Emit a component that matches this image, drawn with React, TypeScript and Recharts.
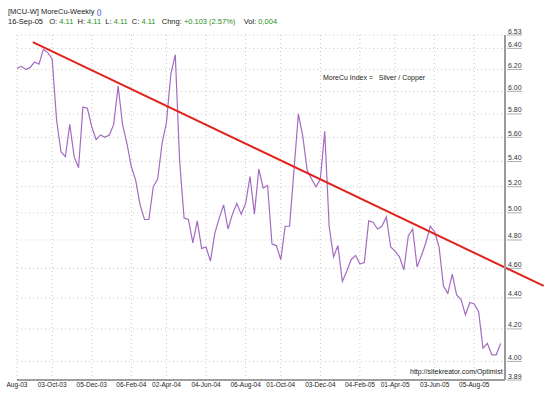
import { LineChart, Line, XAxis, YAxis, CartesianGrid, ReferenceLine } from "recharts"

// weekly closes, 8-Aug-03 .. 16-Sep-05
const closes = [
  6.21, 6.23, 6.2, 6.22, 6.27, 6.25, 6.39, 6.36, 6.3, 5.75,
  5.48, 5.44, 5.71, 5.44, 5.35, 5.86, 5.85, 5.69, 5.58, 5.62,
  5.6, 5.62, 5.71, 6.05, 5.71, 5.55, 5.36, 5.25, 5.06, 4.95,
  4.95, 5.2, 5.26, 5.55, 5.73, 6.16, 6.34, 5.4, 4.96, 4.95,
  4.78, 4.94, 4.74, 4.75, 4.65, 4.85, 4.96, 5.06, 4.88, 4.99,
  5.07, 4.99, 5.07, 5.28, 4.99, 5.34, 5.19, 5.21, 4.77, 4.76,
  4.66, 4.9, 4.9, 5.33, 5.8, 5.61, 5.33, 5.26, 5.2, 5.26,
  5.65, 4.9, 4.68, 4.76, 4.51, 4.58, 4.66, 4.69, 4.63, 4.64,
  4.94, 4.93, 4.88, 4.9, 4.97, 4.75, 4.72, 4.68, 4.59, 4.83,
  4.88, 4.61, 4.69, 4.78, 4.9, 4.86, 4.75, 4.48, 4.43, 4.56,
  4.42, 4.39, 4.29, 4.37, 4.36, 4.31, 4.08, 4.11, 4.04, 4.04,
  4.11,
]

const tickWeeks = [0, 8, 17, 26, 34, 43, 52, 60, 69, 78, 86, 95, 104]
const tickLabels = [
  "Aug-03", "03-Oct-03", "05-Dec-03", "06-Feb-04", "02-Apr-04", "04-Jun-04",
  "06-Aug-04", "01-Oct-04", "03-Dec-04", "04-Feb-05", "01-Apr-05", "03-Jun-05", "05-Aug-05",
]
const priceTicks = [3.89, 4.0, 4.2, 4.4, 4.6, 4.8, 5.0, 5.2, 5.4, 5.6, 5.8, 6.0, 6.2, 6.4, 6.53]

// hand drawn resistance line (week, price)
const trendWeeks = [3.6, 119.8]
const trendPrices = [6.46, 4.48]

const data = closes.map((close, week) => ({ week, close }))

const font = "Arial, 'Liberation Sans', sans-serif"
const green = "#1f8f1f"

function PriceTick(props: any) {
  const { x, y, payload } = props
  return (
    <g>
      <text x={x + 3} y={y - 1.5} fontSize={7} fill="#333" fontFamily={font}>
        {Number(payload.value).toFixed(2)}
      </text>
      <line x1={x + 2} x2={x + 17} y1={y} y2={y} stroke="#777" strokeWidth={0.6} />
    </g>
  )
}

export default function App() {
  return (
    <div style={{ position: "absolute", left: 0, top: 0, width: 553, height: 398, background: "#fff", fontFamily: font }}>
      <div style={{ position: "absolute", left: 8, top: 7, fontSize: 7.5, color: "#222", whiteSpace: "pre" }}>
        [MCU-W] MoreCu-Weekly <span style={{ color: "#2a35c8" }}>()</span>
      </div>
      <div style={{ position: "absolute", left: 8, top: 17, fontSize: 7.5, color: "#222", whiteSpace: "pre" }}>
        {"16-Sep-05   O: "}<span style={{ color: green }}>4.11</span>
        {"  H: "}<span style={{ color: green }}>4.11</span>
        {"  L: "}<span style={{ color: green }}>4.11</span>
        {"  C: "}<span style={{ color: green }}>4.11</span>
        {"   Chng: "}<span style={{ color: green }}>+0.103 (2.57%)</span>
        {"    Vol: "}<span style={{ color: green }}>0,004</span>
      </div>

      <LineChart width={553} height={398} data={data} margin={{ top: 35, right: 8, bottom: 0, left: 17 }}>
        <CartesianGrid stroke="#c8c8c8" strokeDasharray="1 3" />
        <XAxis
          dataKey="week"
          type="number"
          domain={[0, 111]}
          ticks={tickWeeks}
          interval={0}
          tickFormatter={(v: number) => tickLabels[tickWeeks.indexOf(v)]}
          height={18}
          tickLine={false}
          tickSize={0}
          tickMargin={2}
          stroke="#444"
          tick={{ fontSize: 6.5, fill: "#222", fontFamily: font }}
          allowDataOverflow
        />
        <YAxis
          orientation="right"
          type="number"
          scale="log"
          domain={[3.89, 6.53]}
          ticks={priceTicks}
          interval={0}
          width={40}
          tickLine={false}
          tickSize={0}
          tickMargin={0}
          axisLine={{ stroke: "#9a9a9a", strokeWidth: 2 }}
          tick={<PriceTick />}
          allowDataOverflow
        />
        <Line
          dataKey="close"
          type="linear"
          stroke="#a36cc2"
          strokeWidth={1.2}
          dot={false}
          isAnimationActive={false}
        />
        <ReferenceLine
          segment={[
            { x: trendWeeks[0], y: trendPrices[0] },
            { x: trendWeeks[1], y: trendPrices[1] },
          ]}
          stroke="#e0231b"
          strokeWidth={2}
          ifOverflow="visible"
        />
      </LineChart>

      <div style={{ position: "absolute", left: 323, top: 74, fontSize: 7, color: "#222", whiteSpace: "pre" }}>
        {"MoreCu Index =   Silver / Copper"}
      </div>
      <div style={{ position: "absolute", left: 410, top: 368, fontSize: 7, color: "#222", whiteSpace: "pre" }}>
        http://sitekreator.com/Optimist
      </div>
    </div>
  )
}
